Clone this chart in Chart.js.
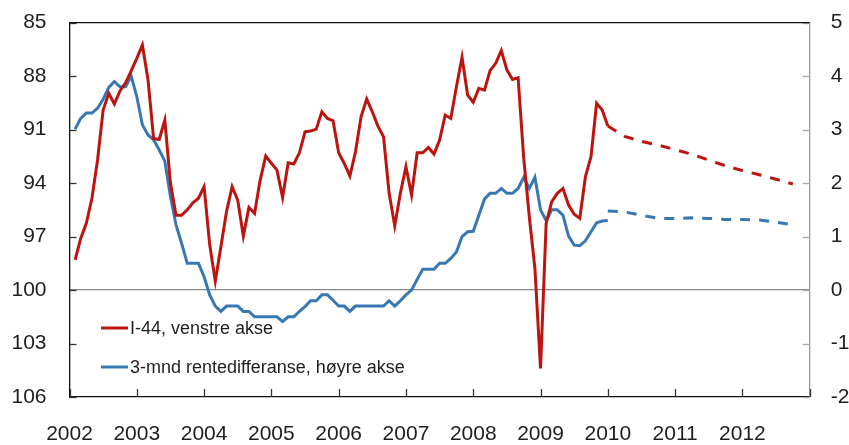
<!DOCTYPE html>
<html>
<head>
<meta charset="utf-8">
<script src="https://cdn.jsdelivr.net/npm/chart.js@4.4.1/dist/chart.umd.min.js"></script>
<style>
  html, body { margin: 0; padding: 0; background: #fff; }
</style>
</head>
<body>
<canvas id="chart" width="849" height="445"></canvas>
<script>
// monthly observations, first one is Feb 2002
var firstObs = 2002 + 1 / 12;
var i44 = [
  98.3, 97.1, 96.26, 94.85, 92.7, 89.9, 88.96, 89.56, 88.83, 88.37, 87.7,
  87.0, 86.25, 88.2, 91.5, 91.55, 90.46, 94.0, 95.8, 95.8, 95.5, 95.1, 94.85,
  94.2, 97.45, 99.5, 97.57, 95.6, 94.2, 94.95, 96.97, 95.36, 95.7, 93.83, 92.48,
  92.89, 93.27, 94.8, 92.86, 92.93, 92.3, 91.12, 91.08, 90.97, 90.0, 90.37,
  90.5, 92.3, 92.9, 93.6, 92.24, 90.27, 89.28, 90.0, 90.8, 91.4, 94.57, 96.4,
  94.57, 93.08, 94.67, 92.3, 92.3, 92.0, 92.37, 91.58, 90.18, 90.37, 88.59,
  86.94, 89.06, 89.46, 88.68, 88.78, 87.69, 87.28, 86.57, 87.65, 88.18, 88.09,
  92.6, 95.9, 98.8, 104.4, 96.26, 95.04, 94.57, 94.3, 95.23, 95.75, 95.98,
  93.64, 92.52, 89.52, 89.9, 90.8
];
var rentediff = [
  3.01, 3.21, 3.31, 3.31, 3.40, 3.57, 3.79, 3.90, 3.80, 3.80, 4.00,
  3.62, 3.09, 2.90, 2.81, 2.62, 2.41, 1.75, 1.22, 0.87, 0.50, 0.50, 0.50,
  0.25, -0.09, -0.30, -0.40, -0.30, -0.30, -0.30, -0.40, -0.40, -0.50, -0.50, -0.50,
  -0.50, -0.50, -0.59, -0.50, -0.50, -0.40, -0.31, -0.20, -0.20, -0.09, -0.09,
  -0.19, -0.30, -0.30, -0.40, -0.30, -0.30, -0.30, -0.30, -0.30, -0.30, -0.20, -0.30,
  -0.20, -0.09, 0.00, 0.20, 0.39, 0.39, 0.39, 0.50, 0.50, 0.59, 0.71,
  1.00, 1.09, 1.10, 1.40, 1.70, 1.81, 1.81, 1.90, 1.81, 1.81, 1.90,
  2.11, 1.90, 2.11, 1.50, 1.30, 1.50, 1.50, 1.40, 1.01, 0.84, 0.83,
  0.92, 1.09, 1.26, 1.29, 1.30
];

// projections, quarterly from 2010 Q1
var projStart = 2010;
var i44Proj = [90.8, 91.38, 91.66, 91.87, 92.12, 92.38, 92.71, 93.03, 93.3, 93.53, 93.78, 94.05];
var rentediffProj = [1.48, 1.46, 1.40, 1.34, 1.34, 1.35, 1.34, 1.32, 1.32, 1.31, 1.27, 1.22];

var years = [2002, 2003, 2004, 2005, 2006, 2007, 2008, 2009, 2010, 2011, 2012];
var labels = ['I-44, venstre akse', '3-mnd rentedifferanse, høyre akse'];

var red = '#BC140F';
var blue = '#3878B2';
var fontFamily = "'Liberation Sans', Arial, sans-serif";
var textColor = '#1e1e1e';

function monthly(arr) {
    return arr.map(function(v, i) { return { x: firstObs + i / 12, y: v }; });
}
function quarterly(arr) {
    return arr.map(function(v, i) { return { x: projStart + i / 4, y: v }; });
}

// fixed axis sizes, and no extra space above/below for the end labels
function fixY(width) {
    return function(s) {
        s.width = width;
        s.paddingTop = 0;
        s.paddingBottom = 0;
    };
}

var innerTicks = {
    id: 'innerTicks',
    beforeDatasetsDraw: function(chart) {
        var ctx = chart.ctx, a = chart.chartArea;
        var sx = chart.scales.x, yl = chart.scales.yL, yr = chart.scales.yR;
        ctx.save();
        ctx.lineWidth = 1.3;
        ctx.strokeStyle = '#333';
        yl.ticks.forEach(function(t) {
            var y = Math.round(yl.getPixelForValue(t.value)) + 0.5;
            ctx.beginPath(); ctx.moveTo(a.left, y); ctx.lineTo(a.left + 7, y); ctx.stroke();
        });
        sx.ticks.forEach(function(t) {
            var x = Math.round(sx.getPixelForValue(t.value)) + 0.5;
            ctx.beginPath(); ctx.moveTo(x, a.bottom); ctx.lineTo(x, a.bottom - 8); ctx.stroke();
        });
        ctx.strokeStyle = '#aaa';
        yr.ticks.forEach(function(t) {
            var y = Math.round(yr.getPixelForValue(t.value)) + 0.5;
            ctx.beginPath(); ctx.moveTo(a.right, y); ctx.lineTo(a.right - 7, y); ctx.stroke();
        });
        // top frame line
        ctx.strokeStyle = '#111';
        ctx.lineWidth = 1.3;
        ctx.beginPath(); ctx.moveTo(a.left, a.top); ctx.lineTo(a.right, a.top); ctx.stroke();
        ctx.restore();
    }
};

var lineLegend = {
    id: 'lineLegend',
    afterDraw: function(chart) {
        var ctx = chart.ctx;
        var rows = [{ text: labels[0], color: red, y: 328 }, { text: labels[1], color: blue, y: 367 }];
        ctx.save();
        ctx.font = '18px ' + fontFamily;
        ctx.textBaseline = 'middle';
        ctx.fillStyle = textColor;
        rows.forEach(function(r) {
            ctx.strokeStyle = r.color;
            ctx.lineWidth = 3;
            ctx.beginPath(); ctx.moveTo(101, r.y); ctx.lineTo(128, r.y); ctx.stroke();
            ctx.fillText(r.text, 130, r.y + 1);
        });
        ctx.restore();
    }
};

new Chart(document.getElementById('chart'), {
    type: 'line',
    data: {
        datasets: [
            { label: labels[0], data: monthly(i44), yAxisID: 'yL', borderColor: red },
            { label: labels[1], data: monthly(rentediff), yAxisID: 'yR', borderColor: blue },
            { label: 'I-44 framskrivning', data: quarterly(i44Proj), yAxisID: 'yL', borderColor: red, borderDash: [10, 9] },
            { label: 'rentedifferanse framskrivning', data: quarterly(rentediffProj), yAxisID: 'yR', borderColor: blue, borderDash: [10, 9] }
        ]
    },
    options: {
        responsive: false,
        animation: false,
        layout: { padding: { top: 22.7, left: 0, right: 0, bottom: 0 } },
        elements: {
            point: { radius: 0 },
            line: { borderWidth: 3, tension: 0, fill: false, borderCapStyle: 'butt' }
        },
        plugins: { legend: { display: false }, tooltip: { enabled: false } },
        scales: {
            x: {
                type: 'linear', min: 2002, max: 2013,
                ticks: {
                    stepSize: 1, padding: 25, autoSkip: false, maxRotation: 0,
                    color: textColor, font: { family: fontFamily, size: 21 },
                    callback: function(v) { return years.indexOf(v) >= 0 ? String(v) : ''; }
                },
                grid: { display: false, drawTicks: false },
                border: { color: '#111', width: 1.3 },
                afterFit: function(s) { s.height = 48; }
            },
            yL: {
                position: 'left', reverse: true, min: 85, max: 106,
                ticks: { stepSize: 3, padding: 23, color: textColor, font: { family: fontFamily, size: 21 } },
                grid: { display: false, drawTicks: false },
                border: { color: '#111', width: 1.3 },
                afterFit: fixY(69.5)
            },
            yR: {
                position: 'right', min: -2, max: 5,
                ticks: { stepSize: 1, padding: 21, color: textColor, font: { family: fontFamily, size: 21 } },
                grid: {
                    drawTicks: false, lineWidth: 1.2,
                    color: function(c) { return c.tick && c.tick.value === 0 ? '#8a8a8a' : 'rgba(0,0,0,0)'; }
                },
                border: { color: '#999', width: 1.3 },
                afterFit: fixY(39.3)
            }
        }
    },
    plugins: [innerTicks, lineLegend]
});
</script>
</body>
</html>
